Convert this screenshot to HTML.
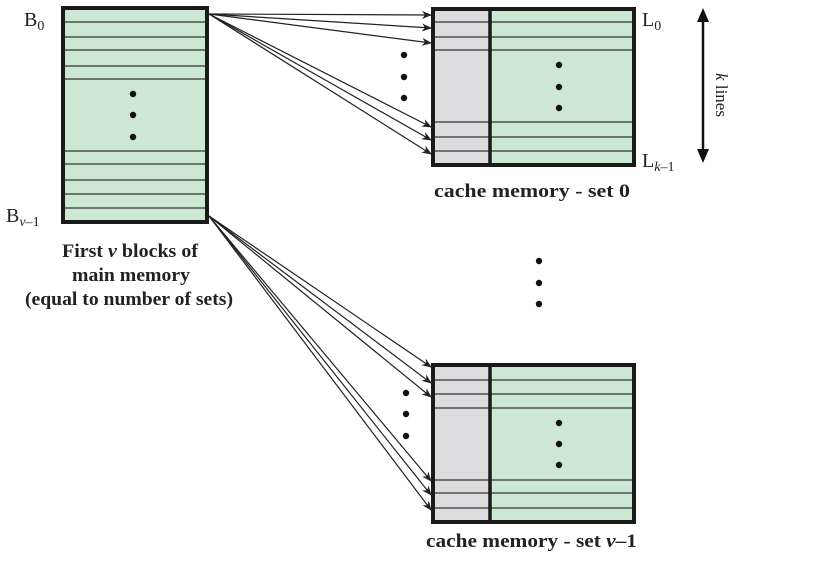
<!DOCTYPE html>
<html><head><style>
html,body{margin:0;padding:0;background:#fff;}
svg{display:block;}
text{font-family:"Liberation Serif",serif;fill:#222;}
</style></head><body>
<svg width="813" height="575" viewBox="0 0 813 575" xmlns="http://www.w3.org/2000/svg">
<defs>
<marker id="ah" markerWidth="10" markerHeight="8" refX="9" refY="4" orient="auto" markerUnits="userSpaceOnUse">
<path d="M0,0 L10,4 L0,8 L3,4 Z" fill="#222"/>
</marker>
</defs>
<rect x="63" y="8" width="144" height="214" fill="#cce7d2" stroke="#1a1a1a" stroke-width="4"/>
<g stroke="#333" stroke-width="1.3">
<line x1="65" x2="205" y1="22" y2="22"/><line x1="65" x2="205" y1="37" y2="37"/>
<line x1="65" x2="205" y1="50" y2="50"/><line x1="65" x2="205" y1="66" y2="66"/>
<line x1="65" x2="205" y1="79" y2="79"/><line x1="65" x2="205" y1="151" y2="151"/>
<line x1="65" x2="205" y1="164" y2="164"/><line x1="65" x2="205" y1="180" y2="180"/>
<line x1="65" x2="205" y1="194" y2="194"/><line x1="65" x2="205" y1="208" y2="208"/>
</g>
<rect x="433" y="9" width="57" height="156" fill="#dcdcdf"/>
<rect x="490" y="9" width="144" height="156" fill="#cce7d2"/>
<g stroke="#333" stroke-width="1.3">
<line x1="433" x2="634" y1="22" y2="22"/><line x1="433" x2="634" y1="37" y2="37"/>
<line x1="433" x2="634" y1="50" y2="50"/><line x1="433" x2="634" y1="122" y2="122"/>
<line x1="433" x2="634" y1="137" y2="137"/><line x1="433" x2="634" y1="151" y2="151"/>
</g>
<line x1="490" y1="9" x2="490" y2="165" stroke="#1a1a1a" stroke-width="3.5"/>
<rect x="433" y="9" width="201" height="156" fill="none" stroke="#1a1a1a" stroke-width="4"/>
<rect x="433" y="365" width="57" height="157" fill="#dcdcdf"/>
<rect x="490" y="365" width="144" height="157" fill="#cce7d2"/>
<g stroke="#333" stroke-width="1.3">
<line x1="433" x2="634" y1="380" y2="380"/><line x1="433" x2="634" y1="394" y2="394"/>
<line x1="433" x2="634" y1="408" y2="408"/><line x1="433" x2="634" y1="480" y2="480"/>
<line x1="433" x2="634" y1="493" y2="493"/><line x1="433" x2="634" y1="508" y2="508"/>
</g>
<line x1="490" y1="365" x2="490" y2="522" stroke="#1a1a1a" stroke-width="3.5"/>
<rect x="433" y="365" width="201" height="157" fill="none" stroke="#1a1a1a" stroke-width="4"/>
<g fill="#111">
<circle cx="133" cy="94" r="3.2"/><circle cx="133" cy="115" r="3.2"/><circle cx="133" cy="137" r="3.2"/>
<circle cx="404" cy="55" r="3.2"/><circle cx="404" cy="77" r="3.2"/><circle cx="404" cy="98" r="3.2"/>
<circle cx="559" cy="65" r="3.2"/><circle cx="559" cy="87" r="3.2"/><circle cx="559" cy="108" r="3.2"/>
<circle cx="539" cy="261" r="3.2"/><circle cx="539" cy="283" r="3.2"/><circle cx="539" cy="304" r="3.2"/>
<circle cx="406" cy="393" r="3.2"/><circle cx="406" cy="414" r="3.2"/><circle cx="406" cy="436" r="3.2"/>
<circle cx="559" cy="423" r="3.2"/><circle cx="559" cy="444" r="3.2"/><circle cx="559" cy="465" r="3.2"/>
</g>
<g stroke="#222" stroke-width="1.2" marker-end="url(#ah)">
<line x1="209" y1="14" x2="431" y2="15"/>
<line x1="209" y1="14" x2="431" y2="28"/>
<line x1="209" y1="14" x2="431" y2="43"/>
<line x1="209" y1="14" x2="431" y2="127"/>
<line x1="209" y1="14" x2="431" y2="140"/>
<line x1="209" y1="14" x2="431" y2="154"/>
<line x1="209" y1="216" x2="431" y2="367"/>
<line x1="209" y1="216" x2="431" y2="383"/>
<line x1="209" y1="216" x2="431" y2="397"/>
<line x1="209" y1="216" x2="431" y2="481"/>
<line x1="209" y1="216" x2="431" y2="495"/>
<line x1="209" y1="216" x2="431" y2="510"/>
</g>
<line x1="703" y1="20" x2="703" y2="150" stroke="#111" stroke-width="2.5"/>
<path d="M703,8 L697,22 L709,22 Z" fill="#111"/>
<path d="M703,163 L697,149 L709,149 Z" fill="#111"/>
<text transform="translate(716,95) rotate(90)" font-size="17" text-anchor="middle"><tspan font-style="italic">k</tspan> lines</text>
<text x="24" y="26" font-size="20">B<tspan font-size="14" dy="4">0</tspan></text>
<text x="6" y="222" font-size="20">B<tspan font-size="14" dy="4"><tspan font-style="italic">v</tspan>–1</tspan></text>
<text x="642" y="26" font-size="20">L<tspan font-size="14" dy="4">0</tspan></text>
<text x="642" y="167" font-size="20">L<tspan font-size="14" dy="4"><tspan font-style="italic">k</tspan>–1</tspan></text>
<g font-size="19" font-weight="bold">
<text x="62" y="257" textLength="136" lengthAdjust="spacingAndGlyphs">First <tspan font-style="italic">v</tspan> blocks of</text>
<text x="72" y="281" textLength="118" lengthAdjust="spacingAndGlyphs">main memory</text>
<text x="25" y="305" textLength="208" lengthAdjust="spacingAndGlyphs">(equal to number of sets)</text>
<text x="434" y="197" textLength="196" lengthAdjust="spacingAndGlyphs">cache memory - set 0</text>
<text x="426" y="547" textLength="211" lengthAdjust="spacingAndGlyphs">cache memory - set <tspan font-style="italic">v</tspan>–1</text>
</g>
</svg>
</body></html>
